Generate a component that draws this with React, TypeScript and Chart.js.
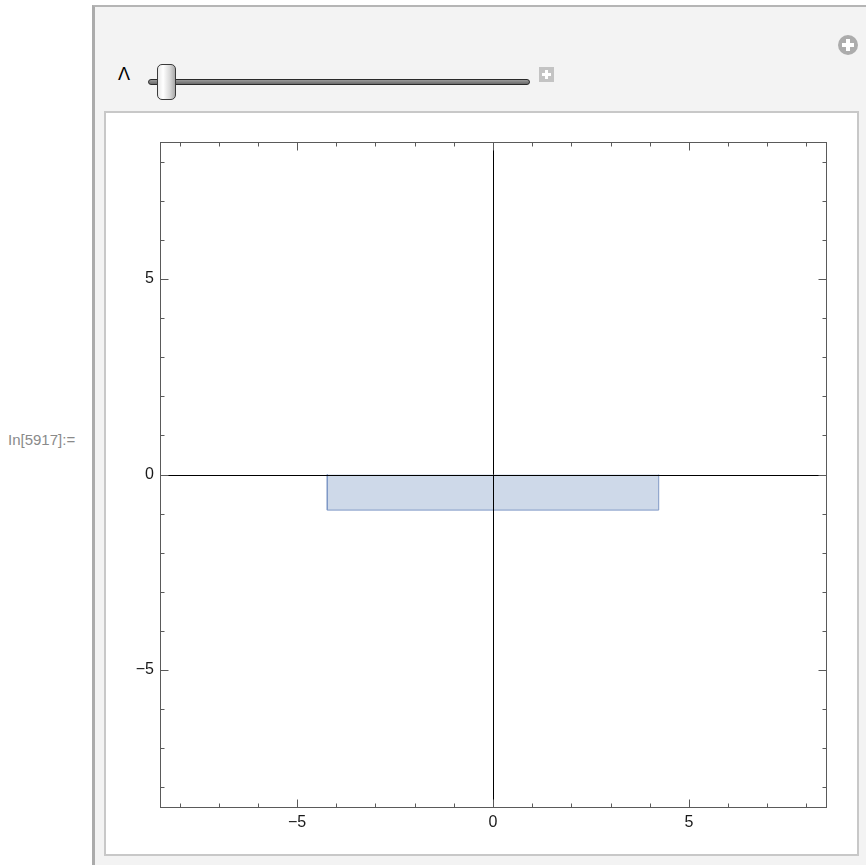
import React, { useEffect, useRef } from "react";
import { Chart, registerables } from "chart.js";

Chart.register(...registerables);

// ---- data ----
const rectX = [-4.23, -4.23, 4.23, 4.23];
const rectY = [0, -0.91, -0.91, 0];
const axisMin = -8.5;
const axisMax = 8.5;
const tickStep = 1;
const majorEvery = 5;
const tickLabels = [-5, 0, 5];
const sliderLabel = "Λ";
const cellLabel = "In[5917]:=";

const FONT = "'Liberation Sans', Arial, sans-serif";

const fmt = (v: number) => (v < 0 ? "\u2212" + Math.abs(v) : String(v));

const framePlugin = {
  id: "mmaFrame",
  afterDatasetsDraw(chart: any) {
    const { ctx, chartArea: a, scales } = chart;
    const x = scales.x;
    const y = scales.y;
    ctx.save();
    ctx.lineWidth = 1;
    // axes through origin
    ctx.strokeStyle = "#000";
    const x0 = Math.round(x.getPixelForValue(0)) + 0.5;
    const y0 = Math.round(y.getPixelForValue(0)) + 0.5;
    ctx.beginPath();
    ctx.moveTo(x0, a.top);
    ctx.lineTo(x0, a.bottom);
    ctx.moveTo(a.left, y0);
    ctx.lineTo(a.right, y0);
    ctx.stroke();
    // frame
    ctx.strokeStyle = "#5a5a5a";
    const L = Math.round(a.left) + 0.5;
    const R = Math.round(a.right) + 0.5;
    const T = Math.round(a.top) + 0.5;
    const B = Math.round(a.bottom) + 0.5;
    ctx.strokeRect(L, T, R - L, B - T);
    // ticks (inward)
    ctx.beginPath();
    for (let v = Math.ceil(axisMin); v <= Math.floor(axisMax); v += tickStep) {
      const len = v % majorEvery === 0 ? 8 : 4;
      const px = Math.round(x.getPixelForValue(v)) + 0.5;
      ctx.moveTo(px, B);
      ctx.lineTo(px, B - len);
      ctx.moveTo(px, T);
      ctx.lineTo(px, T + len);
      const py = Math.round(y.getPixelForValue(v)) + 0.5;
      ctx.moveTo(L, py);
      ctx.lineTo(L + len, py);
      ctx.moveTo(R, py);
      ctx.lineTo(R - len, py);
    }
    ctx.stroke();
    ctx.restore();
  },
};

function PlotChart() {
  const ref = useRef<HTMLCanvasElement | null>(null);
  useEffect(() => {
    if (!ref.current) return;
    const pts = rectX.map((vx, i) => ({ x: vx, y: rectY[i] }));
    const tickCb = (value: any) => fmt(Number(value));
    const setTicks = (s: any) => {
      s.ticks = tickLabels.map((v) => ({ value: v }));
    };
    const chart = new Chart(ref.current, {
      type: "scatter",
      data: {
        datasets: [
          {
            data: pts,
            showLine: true,
            fill: "origin",
            backgroundColor: "rgba(94,129,181,0.3)",
            borderColor: "#7f98c6",
            borderWidth: 1,
            pointRadius: 0,
            tension: 0,
          } as any,
        ],
      },
      options: {
        animation: false,
        responsive: false,
        devicePixelRatio: 1,
        layout: { padding: { top: 29, right: 31, left: 0, bottom: 0 } },
        plugins: { legend: { display: false }, tooltip: { enabled: false } },
        scales: {
          x: {
            type: "linear",
            min: axisMin,
            max: axisMax,
            grid: { display: false, drawTicks: false },
            border: { display: false },
            afterBuildTicks: setTicks,
            ticks: {
              autoSkip: false,
              maxRotation: 0,
              padding: 6,
              color: "#1a1a1a",
              font: { family: FONT, size: 16 },
              callback: tickCb,
            },
            afterFit: (s: any) => {
              s.height = 46;
            },
          },
          y: {
            type: "linear",
            min: axisMin,
            max: axisMax,
            grid: { display: false, drawTicks: false },
            border: { display: false },
            afterBuildTicks: setTicks,
            ticks: {
              autoSkip: false,
              padding: 6,
              color: "#1a1a1a",
              font: { family: FONT, size: 16 },
              callback: tickCb,
            },
            afterFit: (s: any) => {
              s.width = 54;
            },
          },
        },
      },
      plugins: [framePlugin],
    });
    return () => chart.destroy();
  }, []);
  return (
    <canvas
      ref={ref}
      width={751}
      height={740}
      style={{ position: "absolute", left: 106, top: 113, width: 751, height: 740 }}
    />
  );
}

export default function App() {
  return (
    <div
      style={{
        position: "absolute",
        left: 0,
        top: 0,
        width: 866,
        height: 865,
        overflow: "hidden",
        background: "#fff",
        fontFamily: FONT,
      }}
    >
      {/* cell label */}
      <div
        style={{
          position: "absolute",
          left: 8,
          top: 431,
          fontSize: 15,
          color: "#8a8a8a",
          whiteSpace: "nowrap",
        }}
      >
        {cellLabel}
      </div>
      {/* outer manipulate panel */}
      <div
        style={{
          position: "absolute",
          left: 92,
          top: 5,
          width: 800,
          height: 900,
          background: "#f3f3f3",
          borderLeft: "3px solid #ababab",
          borderTop: "2px solid #b5b5b5",
          boxSizing: "border-box",
        }}
      />
      {/* circle plus */}
      <div
        style={{
          position: "absolute",
          left: 838,
          top: 35,
          width: 20,
          height: 20,
          borderRadius: "50%",
          background: "#acacac",
        }}
      >
        <div style={{ position: "absolute", left: 8, top: 4, width: 4, height: 12, background: "#fff" }} />
        <div style={{ position: "absolute", left: 4, top: 8, width: 12, height: 4, background: "#fff" }} />
      </div>
      {/* slider label */}
      <div
        style={{
          position: "absolute",
          left: 118,
          top: 64,
          fontSize: 18,
          color: "#000",
        }}
      >
        {sliderLabel}
      </div>
      {/* slider track */}
      <div
        style={{
          position: "absolute",
          left: 148,
          top: 79,
          width: 382,
          height: 6,
          borderRadius: 3,
          border: "1px solid #2a2a2a",
          background: "linear-gradient(#9a9a9a, #6a6a6a)",
          boxSizing: "border-box",
        }}
      />
      {/* slider thumb */}
      <div
        style={{
          position: "absolute",
          left: 157,
          top: 64,
          width: 19,
          height: 36,
          borderRadius: 5,
          border: "1px solid #3a3a3a",
          background:
            "linear-gradient(90deg, #e8e8e8 0%, #ffffff 30%, #d8d8d8 70%, #a9a9a9 100%)",
          boxSizing: "border-box",
        }}
      />
      {/* small plus box */}
      <div
        style={{
          position: "absolute",
          left: 539,
          top: 67,
          width: 15,
          height: 15,
          background: "#c3c3c3",
        }}
      >
        <div style={{ position: "absolute", left: 6, top: 3, width: 3, height: 9, background: "#fff" }} />
        <div style={{ position: "absolute", left: 3, top: 6, width: 9, height: 3, background: "#fff" }} />
      </div>
      {/* inner white panel */}
      <div
        style={{
          position: "absolute",
          left: 104,
          top: 111,
          width: 755,
          height: 745,
          background: "#fff",
          border: "2px solid #c8c8c8",
          boxSizing: "border-box",
        }}
      />
      <PlotChart />
    </div>
  );
}
